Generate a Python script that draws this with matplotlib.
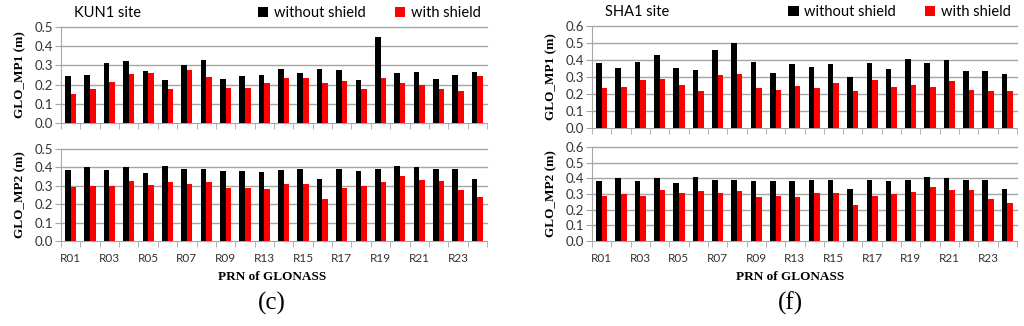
import matplotlib
matplotlib.use("Agg")
import matplotlib.pyplot as plt
import numpy as np

prn = ["R01", "R02", "R03", "R04", "R05", "R06", "R07", "R08", "R09", "R11",
       "R13", "R14", "R15", "R16", "R17", "R18", "R19", "R20", "R21", "R22",
       "R23", "R24"]

kun1_mp1_without = [0.245, 0.252, 0.31, 0.324, 0.27, 0.222, 0.303, 0.328, 0.231, 0.245, 0.252,
                    0.279, 0.262, 0.279, 0.274, 0.226, 0.45, 0.262, 0.267, 0.231, 0.252, 0.267]
kun1_mp1_with = [0.15, 0.179, 0.214, 0.257, 0.262, 0.179, 0.276, 0.24, 0.183, 0.183, 0.209,
                 0.236, 0.236, 0.209, 0.219, 0.179, 0.236, 0.209, 0.2, 0.179, 0.169, 0.247]
kun1_mp2_without = [0.387, 0.40, 0.384, 0.403, 0.37, 0.407, 0.393, 0.393, 0.383, 0.383, 0.377,
                    0.387, 0.393, 0.336, 0.393, 0.383, 0.393, 0.407, 0.40, 0.393, 0.393, 0.336]
kun1_mp2_with = [0.293, 0.30, 0.297, 0.328, 0.306, 0.322, 0.312, 0.322, 0.286, 0.29, 0.283,
                 0.312, 0.312, 0.23, 0.286, 0.30, 0.319, 0.353, 0.333, 0.328, 0.277, 0.241]

sha1_mp1_without = [0.38, 0.35, 0.39, 0.43, 0.355, 0.34, 0.46, 0.5, 0.39, 0.325, 0.375,
                    0.36, 0.375, 0.30, 0.385, 0.345, 0.405, 0.385, 0.40, 0.335, 0.335, 0.315]
sha1_mp1_with = [0.235, 0.24, 0.28, 0.29, 0.25, 0.22, 0.31, 0.32, 0.235, 0.225, 0.245,
                 0.235, 0.265, 0.22, 0.28, 0.24, 0.255, 0.24, 0.275, 0.225, 0.215, 0.215]
sha1_mp2_without = [0.385, 0.40, 0.385, 0.405, 0.37, 0.41, 0.39, 0.39, 0.385, 0.385, 0.38,
                    0.39, 0.39, 0.335, 0.39, 0.38, 0.39, 0.41, 0.40, 0.39, 0.39, 0.33]
sha1_mp2_with = [0.285, 0.30, 0.29, 0.325, 0.305, 0.32, 0.305, 0.32, 0.28, 0.285, 0.28,
                 0.305, 0.305, 0.23, 0.285, 0.30, 0.31, 0.345, 0.325, 0.325, 0.27, 0.24]

grid_col = "#a6a6a6"
sans = "Lato"
serif = "Liberation Serif"

fig = plt.figure(figsize=(10.24, 3.26), dpi=100)


def px_axes(x0, x1, y_top, y_bot):
    return fig.add_axes([x0 / 1024, 1 - y_bot / 326, (x1 - x0) / 1024, (y_bot - y_top) / 326])


def draw_panel(ax, without, with_, ymax, ylabel, show_xlabels):
    x = np.arange(len(prn))
    w = 0.29
    ax.bar(x - w / 2, without, w, color="black", label="without shield", zorder=3)
    ax.bar(x + w / 2, with_, w, color="#ff0000", label="with shield", zorder=3)
    ax.set_xlim(-0.5, len(prn) - 0.5)
    ax.set_ylim(0, ymax)
    yt = np.round(np.arange(0, ymax + 0.001, 0.1), 1)
    ax.set_yticks(yt)
    ax.set_yticklabels([f"{v:.1f}" for v in yt], fontfamily=sans, fontsize=9.5, color="#333333")
    for v in yt[1:]:
        ax.axhline(v, color=grid_col, lw=1, zorder=1, clip_on=False)
    for s in ["top", "right"]:
        ax.spines[s].set_visible(False)
    for s in ["left", "bottom"]:
        ax.spines[s].set_color(grid_col)
    ax.tick_params(axis="y", length=4, color=grid_col, pad=2)
    ax.set_xticks(x)
    if show_xlabels:
        ax.set_xticklabels([p if i % 2 == 0 else "" for i, p in enumerate(prn)],
                           fontfamily=sans, fontsize=8.5, color="#333333")
    else:
        ax.set_xticklabels([])
    ax.tick_params(axis="x", which="major", length=0, pad=9)
    ax.set_xticks(np.arange(-0.5, len(prn), 1), minor=True)
    ax.tick_params(axis="x", which="minor", length=4, color=grid_col)
    ax.set_ylabel(ylabel, fontfamily=serif, fontweight="bold", fontsize=9.5, labelpad=6)


def panel(x0, x1, tops, site, ymax, data, label_x, letter):
    ax1 = px_axes(x0, x1, tops[0], tops[1])
    draw_panel(ax1, data[0], data[1], ymax, "GLO_MP1 (m)", False)
    ax2 = px_axes(x0, x1, tops[2], 241)
    draw_panel(ax2, data[2], data[3], ymax, "GLO_MP2 (m)", True)
    h = ax1.get_position().height * 326
    ax1.text(13 / (x1 - x0), 1.0 + 7 / h, site, transform=ax1.transAxes,
             fontfamily=sans, fontsize=10.5, va="bottom")
    ax1.legend(loc="lower right", bbox_to_anchor=(1.0, 1.0 + 1 / h),
               ncol=2, frameon=False, borderaxespad=0, handlelength=0.7, handleheight=0.7,
               handletextpad=0.4, columnspacing=2.0,
               prop={"family": sans, "size": 10.5})
    fig.text(label_x / 1024, 1 - 277 / 326, "PRN of GLONASS", ha="center", va="center",
             fontfamily=serif, fontweight="bold", fontsize=9.5)
    fig.text(label_x / 1024, 1 - 303 / 326, letter, ha="center", va="center",
             fontfamily=serif, fontsize=18)


panel(61, 487, (27, 123, 149), "KUN1 site", 0.5,
      (kun1_mp1_without, kun1_mp1_with, kun1_mp2_without, kun1_mp2_with), 272, "(c)")
panel(592, 1017, (26, 128, 147), "SHA1 site", 0.6,
      (sha1_mp1_without, sha1_mp1_with, sha1_mp2_without, sha1_mp2_with), 790, "(f)")

fig.savefig("out.png", dpi=100)
